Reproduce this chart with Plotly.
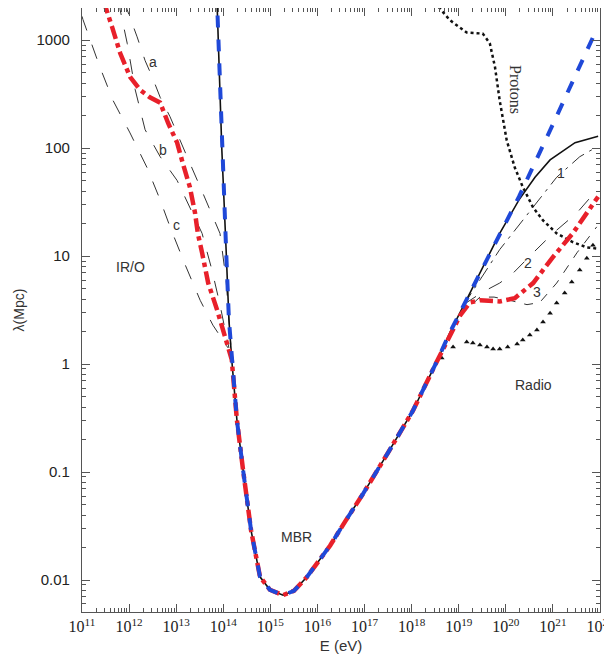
import plotly.graph_objects as go

# ---- data (log10 E [eV], log10 lambda [Mpc]) ----
mbr_logE = [13.86, 13.91, 13.97, 14.06, 14.12, 14.18, 14.29, 14.42, 14.50, 14.59, 14.78, 14.99, 15.27,
            15.5, 15.78, 16.0, 16.27, 16.6, 16.97, 17.5, 18.03, 18.52, 18.81, 19.24, 19.87, 20.28, 21.0, 21.83, 21.93]
mbr_logL = [3.45, 2.81, 1.98, 1.06, 0.41, 0.04, -0.52, -0.98, -1.26, -1.54, -1.97, -2.09, -2.14,
            -2.10, -1.97, -1.84, -1.68, -1.45, -1.20, -0.82, -0.43, 0.01, 0.29, 0.66, 1.21, 1.55, 2.22, 3.0, 3.1]

solid_tail_logE = [19.87, 20.28, 20.62, 20.94, 21.47, 21.96]
solid_tail_logL = [1.21, 1.52, 1.73, 1.89, 2.05, 2.11]

red_left_logE = [11.47, 11.49, 11.64, 11.81, 12.02, 12.23, 12.44, 12.66, 12.83, 13.02, 13.14, 13.29, 13.40, 13.46,
                 13.55, 13.68, 13.87, 13.99, 14.10, 14.18]
red_left_logL = [3.37, 3.32, 3.12, 2.88, 2.66, 2.54, 2.47, 2.42, 2.23, 2.05, 1.86, 1.64, 1.40, 1.21,
                 1.03, 0.75, 0.50, 0.34, 0.16, 0.04]
red_right_logE = [18.81, 19.03, 19.24, 19.45, 19.87, 20.19, 20.58, 21.0, 21.42, 21.96]
red_right_logL = [0.27, 0.45, 0.57, 0.59, 0.58, 0.61, 0.75, 0.99, 1.21, 1.55]

a_logE = [11.90, 11.96, 12.17, 12.34, 12.49, 12.66, 12.87, 13.08, 13.29, 13.51, 13.72, 13.93, 14.06, 14.12, 14.16]
a_logL = [3.37, 3.28, 3.03, 2.81, 2.66, 2.47, 2.29, 2.07, 1.86, 1.64, 1.43, 1.21, 0.78, 0.41, 0.18]
b_logE = [11.79, 11.81, 11.96, 12.13, 12.34, 12.66, 13.02, 13.29, 13.55, 13.76, 13.93, 14.06, 14.12]
b_logL = [3.37, 3.28, 2.97, 2.54, 2.17, 1.92, 1.70, 1.45, 1.21, 0.87, 0.55, 0.27, 0.15]
c_logE = [11.0, 11.02, 11.38, 11.66, 12.02, 12.38, 12.66, 12.87, 13.19, 13.51, 13.78, 14.10]
c_logL = [3.22, 3.19, 2.75, 2.44, 2.14, 1.82, 1.52, 1.27, 0.92, 0.59, 0.36, 0.15]

c1_logE = [18.81, 19.17, 19.87, 20.58, 21.08, 21.57, 21.93]
c1_logL = [0.29, 0.59, 1.06, 1.45, 1.73, 1.92, 2.01]
c2_logE = [19.1, 19.51, 19.87, 20.15, 20.58, 21.0, 21.51, 21.93]
c2_logL = [0.55, 0.667, 0.75, 0.84, 1.03, 1.21, 1.40, 1.61]
c3_logE = [19.03, 19.45, 19.75, 20.09, 20.45, 20.72, 21.08, 21.51, 21.93]
c3_logL = [0.45, 0.62, 0.62, 0.59, 0.55, 0.57, 0.75, 1.03, 1.27]

prot_logE = [18.40, 18.45, 18.81, 19.17, 19.51, 19.66, 19.77, 19.87, 20.02, 20.19, 20.36, 20.58, 20.79, 21.08, 21.42, 21.72, 21.93]
prot_logL = [3.45, 3.37, 3.185, 3.07, 3.06, 2.97, 2.75, 2.44, 2.07, 1.82, 1.64, 1.45, 1.33, 1.21, 1.13, 1.08, 1.07]

radio_logE = [18.64, 18.88, 19.17, 19.30, 19.45, 19.60, 19.73, 19.87, 20.04, 20.24, 20.36, 20.51, 20.66, 20.79,
              20.94, 21.08, 21.25, 21.40, 21.57, 21.72, 21.85]
radio_logL = [0.056, 0.157, 0.204, 0.194, 0.176, 0.157, 0.139, 0.139, 0.157, 0.185, 0.222, 0.269, 0.315, 0.39,
              0.47, 0.565, 0.657, 0.76, 0.87, 0.98, 1.10]

x_tick_exp = list(range(11, 23))
y_tick_vals = [0.01, 0.1, 1, 10, 100, 1000]
y_tick_text = ["0.01", "0.1", "1", "10", "100", "1000"]

labels = [  # text, logE, logL
    ("a", 12.51, 2.80), ("b", 12.72, 1.98), ("c", 13.0, 1.29),
    ("IR/O", 12.02, 0.90), ("MBR", 15.56, -1.60), ("Radio", 20.58, -0.19),
    ("1", 21.17, 1.77), ("2", 20.47, 0.94), ("3", 20.66, 0.67),
]


def P(v):
    return [10.0 ** t for t in v]


fig = go.Figure()

def line(xs, ys, color, width, dash, name):
    fig.add_trace(go.Scatter(x=P(xs), y=P(ys), mode="lines", name=name,
                             line=dict(color=color, width=width, dash=dash)))

line(a_logE, a_logL, "#333", 1, "longdash", "a")
line(b_logE, b_logL, "#333", 1, "longdash", "b")
line(c_logE, c_logL, "#333", 1, "longdash", "c")
line(c1_logE, c1_logL, "#333", 1, "longdashdot", "1")
line(c2_logE, c2_logL, "#333", 1, "longdash", "2")
line(c3_logE, c3_logL, "#333", 1, "dash", "3")
line(prot_logE, prot_logL, "#111", 2.5, "dot", "Protons")
fig.add_trace(go.Scatter(x=P(radio_logE), y=P(radio_logL), mode="markers", name="Radio",
                         marker=dict(symbol="triangle-up", size=5, color="#111")))
line(mbr_logE[:25] + solid_tail_logE[1:], mbr_logL[:25] + solid_tail_logL[1:], "#111", 1.6, "solid", "MBR solid")

red_mid = [i for i, e in enumerate(mbr_logE) if 14.18 < e < 18.81]
red_E = red_left_logE + [mbr_logE[i] for i in red_mid] + red_right_logE
red_L = red_left_logL + [mbr_logL[i] for i in red_mid] + red_right_logL
line(red_E, red_L, "#e8202a", 4.5, "dashdot", "total")
line(mbr_logE, mbr_logL, "#1f48d8", 4, "dash", "MBR")

for t, xe, yl in labels:
    fig.add_annotation(x=xe, y=yl, xref="x", yref="y", text=t, showarrow=False,
                       font=dict(family="Liberation Sans, Arial", size=14, color="#333"))
fig.add_annotation(x=20.19, y=2.54, xref="x", yref="y", text="Protons", showarrow=False, textangle=90,
                   font=dict(family="Liberation Serif, Times New Roman", size=16, color="#333"))

x_minor = [m * 10.0 ** k for k in range(11, 22) for m in range(2, 10)]
y_minor = [m * 10.0 ** k for k in range(-3, 4) for m in range(2, 10)]

fig.update_layout(
    width=612, height=668, showlegend=False,
    paper_bgcolor="white", plot_bgcolor="white",
    margin=dict(l=74, r=20, t=0, b=64, autoexpand=False),
)
fig.update_xaxes(
    type="log", range=[11, 22], showgrid=False, zeroline=False, automargin=False,
    showline=True, linecolor="#555", linewidth=1.2, mirror="allticks",
    ticks="inside", ticklen=8, tickcolor="#555",
    tickvals=[10.0 ** e for e in x_tick_exp],
    ticktext=[f"10<sup>{e}</sup>" for e in x_tick_exp],
    tickfont=dict(family="Liberation Serif, Times New Roman", size=16, color="#222"),
    minor=dict(ticks="inside", ticklen=4, tickcolor="#555", tickmode="array", tickvals=x_minor),
    title=dict(text="E (eV)", font=dict(family="Liberation Sans, Arial", size=15, color="#333"), standoff=6),
)
fig.update_yaxes(
    type="log", range=[-2.296, 3.297], showgrid=False, zeroline=False, automargin=False,
    showline=True, linecolor="#555", linewidth=1.2, mirror="allticks",
    ticks="inside", ticklen=8, tickcolor="#555",
    tickvals=y_tick_vals, ticktext=y_tick_text,
    tickfont=dict(family="Liberation Sans, Arial", size=15, color="#222"),
    ticklabelstandoff=8,
    minor=dict(ticks="inside", ticklen=4, tickcolor="#555", tickmode="array", tickvals=y_minor),
    title=dict(text="λ(Mpc)", font=dict(family="Liberation Sans, Arial", size=14, color="#333"), standoff=8),
)

fig.write_html("out.html")
